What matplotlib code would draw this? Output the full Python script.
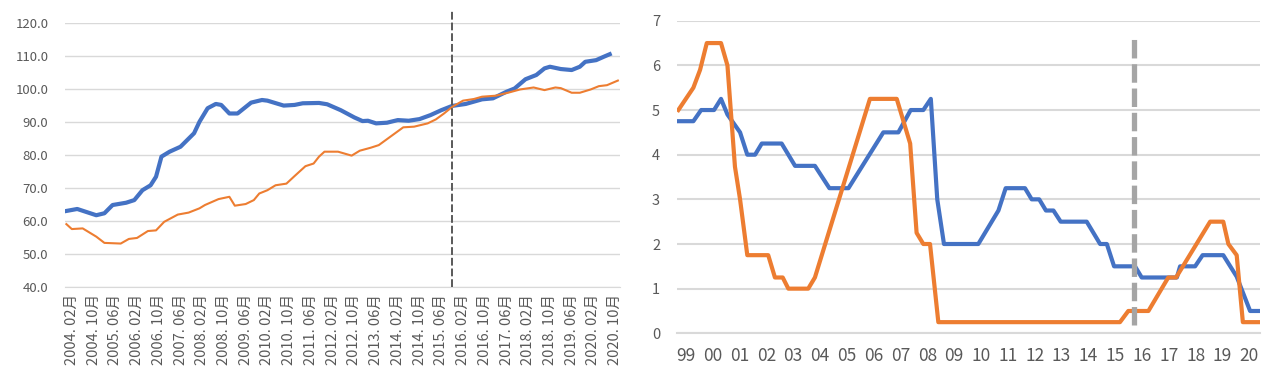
import matplotlib
matplotlib.use("Agg")
import matplotlib.pyplot as plt

plt.rcParams['font.family'] = ['Noto Sans CJK SC', 'DejaVu Sans']

# ---- left chart: index levels, x = months since 2004.02 ----
left_tick_labels = [
    "2004. 02月", "2004. 10月", "2005. 06月", "2006. 02月", "2006. 10月", "2007. 06月",
    "2008. 02月", "2008. 10月", "2009. 06月", "2010. 02月", "2010. 10月", "2011. 06月",
    "2012. 02月", "2012. 10月", "2013. 06月", "2014. 02月", "2014. 10月", "2015. 06月",
    "2016. 02月", "2016. 10月", "2017. 06月", "2018. 02月", "2018. 10月", "2019. 06月",
    "2020. 02月", "2020. 10月",
]
left_tick_months = [0, 8, 16, 24, 32, 40, 48, 56, 64, 72, 80, 88, 96, 104, 112, 120,
                    128, 136, 144, 152, 160, 168, 176, 184, 192, 200]

blue_m = [-2, 2, 9, 12, 15, 20, 23, 26, 29, 31, 33, 36, 40, 45, 47, 50, 53, 55, 58, 61,
          66, 70, 72, 78, 82, 85, 91, 94, 99, 104, 107, 109, 112, 116, 120, 124, 128, 132,
          136, 140, 145, 151, 155, 160, 163, 167, 171, 174, 176, 180, 184, 187, 189, 193,
          196, 198]
blue_v = [63.0, 63.6, 61.7, 62.3, 64.8, 65.5, 66.3, 69.3, 70.8, 73.4, 79.5, 81.0, 82.5,
          86.6, 90.1, 94.2, 95.5, 95.2, 92.6, 92.6, 95.9, 96.7, 96.5, 95.0, 95.2, 95.7,
          95.8, 95.4, 93.6, 91.4, 90.3, 90.4, 89.6, 89.8, 90.6, 90.4, 90.9, 92.1, 93.6,
          94.9, 95.5, 96.9, 97.2, 99.2, 100.2, 103.0, 104.3, 106.3, 106.8, 106.1, 105.8,
          106.8, 108.3, 108.8, 109.9, 110.6]

orange_m = [-2, 0, 4, 9, 12, 18, 21, 24, 28, 31, 34, 39, 43, 47, 49, 54, 58, 60, 64, 67,
            69, 72, 75, 79, 82, 86, 89, 91, 93, 98, 103, 106, 110, 113, 118, 122, 126, 131,
            134, 137, 140, 144, 148, 151, 156, 161, 165, 170, 174, 178, 180, 184, 187, 191,
            194, 197, 201]
orange_v = [59.0, 57.5, 57.7, 55.2, 53.3, 53.1, 54.5, 54.8, 56.9, 57.1, 59.7, 61.9, 62.5,
            63.8, 64.8, 66.6, 67.3, 64.6, 65.1, 66.3, 68.3, 69.3, 70.8, 71.3, 73.6, 76.6,
            77.4, 79.5, 81.0, 81.0, 79.8, 81.3, 82.2, 83.0, 86.0, 88.4, 88.6, 89.6, 90.8,
            92.6, 94.6, 96.5, 97.0, 97.7, 98.0, 99.0, 99.9, 100.5, 99.7, 100.5, 100.3, 98.9,
            98.9, 99.9, 100.9, 101.2, 102.6]
left_marker_month = 140

# ---- right chart: policy rates, x = year ----
right_labels = ["99", "00", "01", "02", "03", "04", "05", "06", "07", "08", "09", "10",
                "11", "12", "13", "14", "15", "16", "17", "18", "19", "20"]
rate_blue_x = [1999.06, 1999.62, 1999.91, 2000.39, 2000.65, 2000.89, 2001.36, 2001.63,
               2001.92, 2002.17, 2002.91, 2003.41, 2004.15, 2004.69, 2005.40, 2006.70,
               2007.26, 2007.72, 2008.19, 2008.47, 2008.71, 2008.96, 2010.24, 2010.99,
               2011.26, 2011.98, 2012.23, 2012.51, 2012.76, 2013.04, 2013.31, 2014.28,
               2014.78, 2015.03, 2015.30, 2016.08, 2016.33, 2017.64, 2017.76, 2018.32,
               2018.60, 2019.37, 2019.87, 2020.37, 2020.68]
rate_blue_y = [4.75, 4.75, 5.0, 5.0, 5.25, 4.9, 4.5, 4.0, 4.0, 4.25, 4.25, 3.75, 3.75,
               3.25, 3.25, 4.5, 4.5, 5.0, 5.0, 5.25, 3.0, 2.0, 2.0, 2.75, 3.25, 3.25, 3.0,
               3.0, 2.75, 2.75, 2.5, 2.5, 2.0, 2.0, 1.5, 1.5, 1.25, 1.25, 1.5, 1.5, 1.75,
               1.75, 1.27, 0.5, 0.5]
rate_orange_x = [1999.06, 1999.62, 1999.87, 2000.12, 2000.65, 2000.89, 2001.17, 2001.36,
                 2001.63, 2002.41, 2002.66, 2002.95, 2003.16, 2003.90, 2004.15, 2006.20,
                 2007.20, 2007.70, 2007.94, 2008.19, 2008.44, 2008.75, 2015.52, 2015.83,
                 2016.58, 2017.32, 2017.61, 2018.88, 2019.37, 2019.56, 2019.87, 2020.10,
                 2020.68]
rate_orange_y = [5.0, 5.5, 5.9, 6.5, 6.5, 6.0, 3.73, 3.0, 1.75, 1.75, 1.25, 1.25, 1.0, 1.0,
                 1.25, 5.25, 5.25, 4.25, 2.25, 2.0, 2.0, 0.25, 0.25, 0.5, 0.5, 1.25, 1.25,
                 2.5, 2.5, 2.0, 1.75, 0.25, 0.25]
right_marker_year = 2016.04

BLUE = "#4472C4"
ORANGE = "#ED7D31"
GRID = "#D9D9D9"
TXT = "#595959"

fig = plt.figure(figsize=(12.8, 3.86), dpi=100)

# left panel
ax1 = fig.add_axes([0.0508, 0.2573, 0.4336, 0.6824])
ax1.plot(blue_m, blue_v, color=BLUE, lw=3.0, solid_joinstyle="round", zorder=3)
ax1.plot(orange_m, orange_v, color=ORANGE, lw=1.5, zorder=4)
ax1.axvline(left_marker_month, ymin=0, ymax=1.05, color="#595959", lw=1.4,
            ls=(0, (4, 1.5)), clip_on=False, zorder=5)
ax1.set_xlim(-2.5, 201.8)
ax1.set_ylim(40, 120)
ax1.set_yticks(range(40, 121, 10))
ax1.set_yticklabels([f"{v:.1f}" for v in range(40, 121, 10)])
ax1.set_xticks(left_tick_months)
ax1.set_xticklabels(left_tick_labels, rotation=90, fontsize=10.5, color=TXT)
ax1.grid(axis="y", color=GRID, lw=1.0)
ax1.set_axisbelow(True)

# right panel
ax2 = fig.add_axes([0.5287, 0.1365, 0.4557, 0.8098])
ax2.plot(rate_blue_x, rate_blue_y, color=BLUE, lw=3.0, zorder=3)
ax2.plot(rate_orange_x, rate_orange_y, color=ORANGE, lw=3.0, zorder=4)
ax2.plot([right_marker_year, right_marker_year], [0.18, 6.68], color="#A5A5A5", lw=3.8,
         ls=(0, (3.5, 1.1)), zorder=5)
ax2.set_xlim(1999.0, 2020.74)
ax2.set_ylim(0, 7)
ax2.set_yticks(range(0, 8))
ax2.set_xticks([1999.34 + i for i in range(len(right_labels))])
ax2.set_xticklabels(right_labels, fontsize=12.5, color=TXT)
ax2.grid(axis="y", color=GRID, lw=1.5)
ax2.set_axisbelow(True)

for ax in (ax1, ax2):
    for s in ax.spines.values():
        s.set_visible(False)
    ax.tick_params(length=0, colors=TXT)
ax1.tick_params(axis="y", labelsize=9.5, pad=12)
ax1.tick_params(axis="x", pad=5)
ax2.tick_params(axis="y", labelsize=10.5, pad=12)
ax2.tick_params(axis="x", pad=10)
ax1.spines["bottom"].set_visible(True)
ax1.spines["bottom"].set_color(GRID)
ax2.spines["bottom"].set_visible(True)
ax2.spines["bottom"].set_color(GRID)
ax2.spines["bottom"].set_linewidth(1.5)

fig.savefig("out.png", dpi=100, facecolor="white")
